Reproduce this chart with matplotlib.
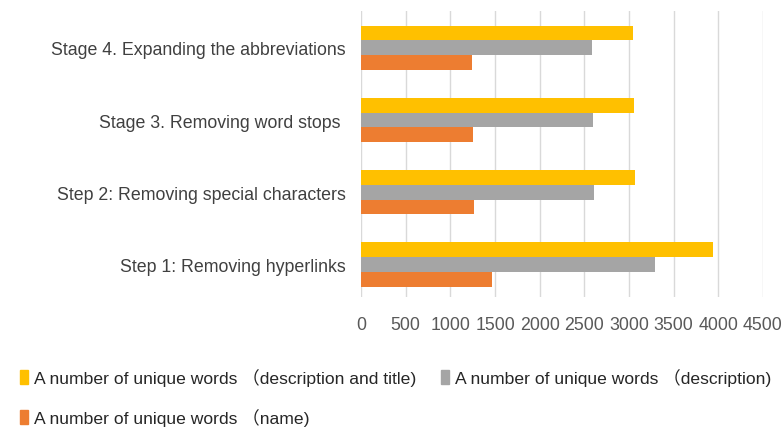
import numpy as np
import matplotlib.pyplot as plt
from matplotlib.patches import Patch

stages = ['Step 1: Removing hyperlinks',
          'Step 2: Removing special characters',
          'Stage 3. Removing word stops ',
          'Stage 4. Expanding the abbreviations']
desc_title = [3945, 3070, 3060, 3050]
desc = [3290, 2610, 2600, 2590]
name = [1465, 1265, 1255, 1245]
ticks = [0, 500, 1000, 1500, 2000, 2500, 3000, 3500, 4000, 4500]

labels = ['A number of unique words \uff08description and title)',
          'A number of unique words \uff08description)',
          'A number of unique words \uff08name)']
colors = ['#ffc000', '#a5a5a5', '#ed7d31']

plt.rcParams['font.family'] = ['Liberation Sans', 'Noto Sans CJK SC', 'DejaVu Sans']

fig = plt.figure(figsize=(7.84, 4.31), dpi=100)
ax = fig.add_axes([0.4605, 0.3086, 0.5127, 0.6636])

y = np.arange(len(stages))
h = 0.205
ax.barh(y + h, desc_title, height=h, color=colors[0], zorder=3)
ax.barh(y, desc, height=h, color=colors[1], zorder=3)
ax.barh(y - h, name, height=h, color=colors[2], zorder=3)

ax.set_xlim(0, 4500)
ax.set_ylim(-0.45, 3.51)
ax.set_xticks(ticks)
ax.set_yticks(y)
ax.set_yticklabels(stages, fontsize=12.8, color='#404040')
ax.tick_params(axis='x', labelsize=12.8, colors='#595959', length=0, pad=14)
ax.tick_params(axis='y', length=0, pad=11)
ax.grid(axis='x', color='#d9d9d9', linewidth=1, zorder=0)
for s in ax.spines.values():
    s.set_visible(False)

handles = [Patch(color=colors[0]), Patch(color=colors[2]), Patch(color=colors[1])]
fig.legend(handles, [labels[0], labels[2], labels[1]], ncol=2,
           loc='upper left', bbox_to_anchor=(0.005, 0.18), frameon=False,
           fontsize=12.6, handlelength=0.5, handleheight=0.8, handletextpad=0.3,
           columnspacing=1.4, labelspacing=1.25, labelcolor='#262626')

fig.savefig('out.png', dpi=100)
